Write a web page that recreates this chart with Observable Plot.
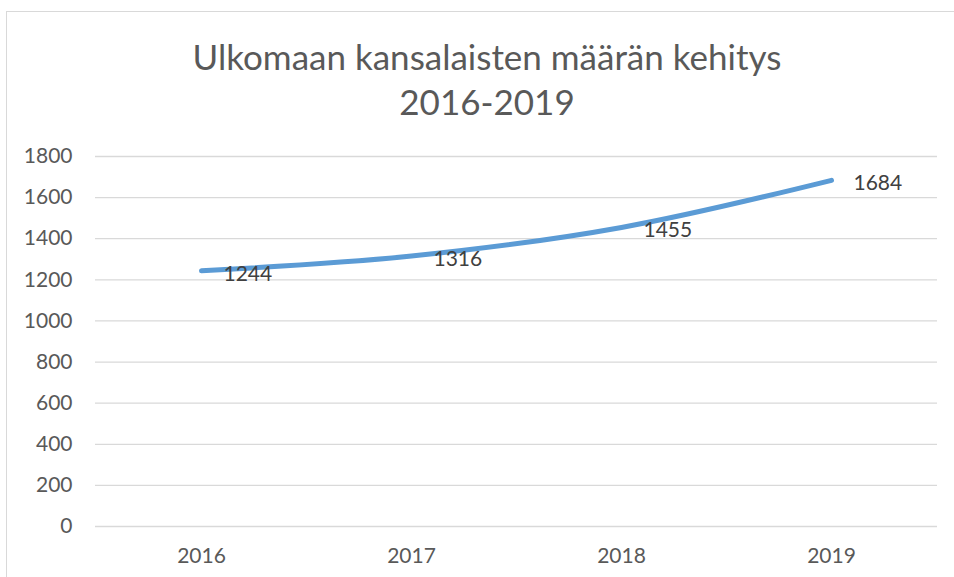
<!DOCTYPE html>
<html>
<head>
<meta charset="utf-8">
<script src="https://cdn.jsdelivr.net/npm/d3@7"></script>
<script src="https://cdn.jsdelivr.net/npm/@observablehq/plot@0.6"></script>
<style>
  html, body { margin: 0; padding: 0; background: #fff; width: 954px; height: 577px; overflow: hidden; }
  #frame { position: absolute; left: 6px; top: 11px; width: 1000px; height: 700px; border: 1px solid #d9d9d9; box-sizing: border-box; }
  #title { position: absolute; left: 0; top: 34px; width: 974px; text-align: center; font-family: Lato, sans-serif; font-size: 35px; line-height: 45px; color: #595959; }
  #chart { position: absolute; left: 0; top: 130px; }
</style>
</head>
<body>
<div id="frame"></div>
<div id="title">Ulkomaan kansalaisten määrän kehitys<br>2016-2019</div>
<div id="chart"></div>
<script>
const years = ["2016", "2017", "2018", "2019"];
const counts = [1244, 1316, 1455, 1684];
const yTicks = [0, 200, 400, 600, 800, 1000, 1200, 1400, 1600, 1800];

const data = years.map((y, i) => ({year: y, value: counts[i]}));

const plot = Plot.plot({
  width: 954,
  height: 447,
  marginLeft: 95,
  marginRight: 17,
  marginTop: 26,
  marginBottom: 51,
  style: {fontFamily: "Lato, sans-serif", fontSize: "21px", color: "#595959", background: "transparent"},
  x: {type: "point", domain: years, padding: 0.5, label: null},
  y: {domain: [0, 1800], ticks: yTicks, label: null},
  marks: [
    Plot.gridY(yTicks, {stroke: "#d9d9d9", strokeOpacity: 1, strokeWidth: 1.3}),
    Plot.axisY(yTicks, {tickSize: 0, tickPadding: 23, label: null, fill: "#595959", fontSize: 21, tickFormat: d => String(d)}),
    Plot.axisX({tickSize: 0, tickPadding: 22, label: null, fill: "#595959", fontSize: 21}),
    Plot.line(data, {x: "year", y: "value", stroke: "#5b9bd5", strokeWidth: 5, curve: "catmull-rom", strokeLinecap: "round"}),
    Plot.text(data, {x: "year", y: "value", text: d => String(d.value), textAnchor: "start", dx: 22, dy: 3, fill: "#404040", fontSize: 21})
  ]
});
document.getElementById("chart").appendChild(plot);
</script>
</body>
</html>
